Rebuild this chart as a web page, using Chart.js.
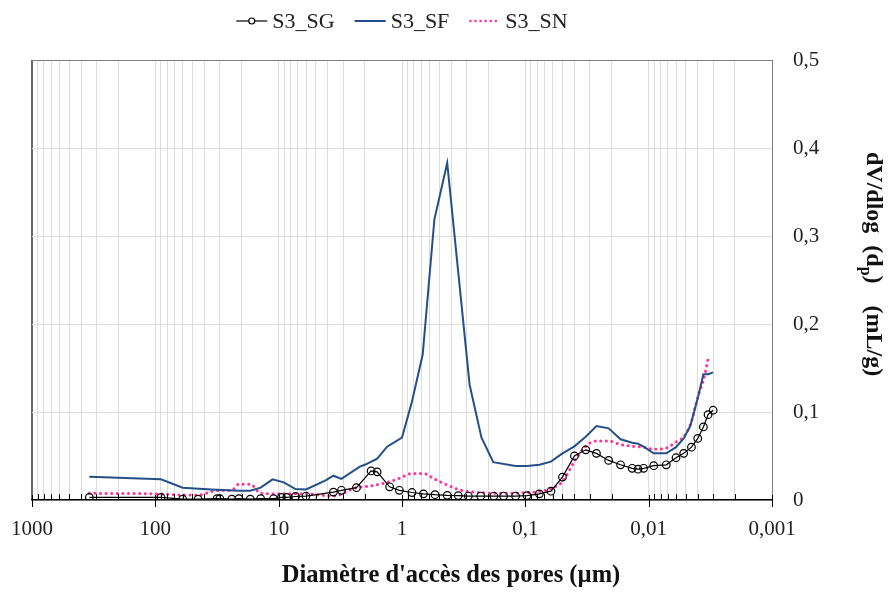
<!DOCTYPE html>
<html lang="fr">
<head>
<meta charset="utf-8">
<title>S3 - distribution des pores</title>
<script src="https://cdn.jsdelivr.net/npm/chart.js@4.4.0/dist/chart.umd.min.js"></script>
<style>
  html, body { margin: 0; padding: 0; background: #fff; }
  #wrap { width: 888px; height: 593px; }
</style>
</head>
<body>
<div id="wrap"><canvas id="chart"></canvas></div>
<script>
// values: pore diameter (µm) and dV/dlog(dp) (mL/g)
let sgDiam = [343, 90, 60, 45, 31.6, 30, 24, 21, 17, 14, 11, 9.5, 8.6, 7.3, 6.0, 3.6, 3.1, 2.34, 1.78, 1.59, 1.26, 1.05, 0.83, 0.67, 0.54, 0.43, 0.35, 0.29, 0.23, 0.18, 0.15, 0.12, 0.097, 0.077, 0.062, 0.050, 0.040, 0.0324, 0.0265, 0.0211, 0.0169, 0.0136, 0.0122, 0.0110, 0.0091, 0.0072, 0.0060, 0.0052, 0.0045, 0.0040, 0.0036, 0.0033, 0.0030];
let sgVal = [0.003, 0.003, 0.001, 0.001, 0.0015, 0.0015, 0.001, 0.0015, 0.001, 0.0015, 0.0015, 0.003, 0.003, 0.004, 0.0045, 0.009, 0.011, 0.014, 0.033, 0.032, 0.015, 0.011, 0.0085, 0.007, 0.006, 0.0053, 0.005, 0.0045, 0.0045, 0.0045, 0.0045, 0.0045, 0.005, 0.007, 0.010, 0.026, 0.050, 0.057, 0.053, 0.045, 0.040, 0.036, 0.035, 0.036, 0.039, 0.040, 0.048, 0.053, 0.060, 0.070, 0.083, 0.097, 0.102];

let sfDiam = [343, 90, 60, 35, 21, 17, 14, 11.2, 9.1, 7.3, 6.0, 4.2, 3.6, 3.1, 2.2, 2.0, 1.59, 1.32, 1.0, 0.83, 0.68, 0.546, 0.43, 0.283, 0.227, 0.182, 0.12, 0.097, 0.077, 0.062, 0.050, 0.040, 0.0324, 0.0265, 0.0211, 0.0169, 0.0136, 0.0122, 0.0110, 0.0091, 0.0072, 0.0060, 0.0052, 0.0046, 0.0040, 0.0036, 0.0033, 0.0030];
let sfVal = [0.0265, 0.0235, 0.014, 0.012, 0.0105, 0.0105, 0.014, 0.0235, 0.020, 0.0125, 0.012, 0.022, 0.0276, 0.024, 0.038, 0.040, 0.047, 0.0606, 0.071, 0.112, 0.165, 0.319, 0.383, 0.131, 0.071, 0.043, 0.0386, 0.0386, 0.040, 0.0436, 0.053, 0.061, 0.072, 0.084, 0.0814, 0.069, 0.065, 0.064, 0.0606, 0.053, 0.053, 0.060, 0.070, 0.084, 0.1155, 0.143, 0.143, 0.145];

let snDiam = [343, 90, 60, 45, 31.6, 24, 21, 17, 14, 11, 6.0, 3.6, 2.34, 1.78, 1.26, 1.05, 0.83, 0.67, 0.54, 0.43, 0.35, 0.29, 0.23, 0.18, 0.15, 0.12, 0.097, 0.077, 0.062, 0.050, 0.040, 0.0324, 0.0265, 0.0211, 0.0169, 0.0136, 0.0110, 0.0091, 0.0072, 0.0060, 0.0052, 0.0045, 0.0040, 0.0036, 0.0033];
let snVal = [0.0076, 0.0068, 0.0057, 0.0057, 0.0106, 0.011, 0.018, 0.018, 0.0076, 0.007, 0.007, 0.0045, 0.014, 0.016, 0.0208, 0.0246, 0.030, 0.030, 0.0235, 0.017, 0.012, 0.0095, 0.0085, 0.0076, 0.0076, 0.0076, 0.0085, 0.0095, 0.013, 0.021, 0.0436, 0.061, 0.067, 0.067, 0.063, 0.061, 0.060, 0.0576, 0.059, 0.066, 0.072, 0.089, 0.117, 0.136, 0.160];

let seriesNames = ["S3_SG", "S3_SF", "S3_SN"];

// axis ticks
let decades = [1000, 100, 10, 1, 0.1, 0.01, 0.001];
let decadeLabels = ["1000", "100", "10", "1", "0,1", "0,01", "0,001"];
let yTicks = [0, 0.1, 0.2, 0.3, 0.4, 0.5];
let yTickLabels = ["0", "0,1", "0,2", "0,3", "0,4", "0,5"];

let xTitle = "Diamètre d'accès des pores (µm)";

const FONT = '"Liberation Serif", "Times New Roman", serif';
const SF_BLUE = '#24508a';
const SN_PINK = '#ff3399';

// minor gridlines 2..9 inside each decade
let xTickValues = decades.slice();
decades.forEach(d => {
  if (d >= 1000) return;
  for (let k = 2; k <= 9; k++) xTickValues.push(+(d * k).toPrecision(3));
});

function pts(xs, ys) {
  return xs.map((x, i) => ({ x: x, y: ys[i] }));
}

// legend, tick marks and axis titles drawn by hand
const decor = {
  id: 'decor',
  afterDraw(chart) {
    let ctx = chart.ctx, a = chart.chartArea, xs = chart.scales.x;
    ctx.save();

    // tick marks on the bottom axis
    ctx.strokeStyle = '#000';
    ctx.lineWidth = 1;
    xs.ticks.forEach(t => {
      let px = Math.round(xs.getPixelForValue(t.value)) + 0.5;
      let major = decades.includes(t.value);
      ctx.beginPath();
      ctx.moveTo(px, a.bottom - (major ? 5 : 6));
      ctx.lineTo(px, a.bottom + (major ? 7 : 0));
      ctx.stroke();
    });

    // legend
    ctx.font = '22px ' + FONT;
    ctx.textBaseline = 'middle';
    ctx.textAlign = 'left';
    let mark = 31, gap = 5, space = 20;
    let widths = seriesNames.map(n => ctx.measureText(n).width);
    let total = widths.reduce((s, w) => s + mark + gap + w, 0) + space * (seriesNames.length - 1);
    let x = (a.left + a.right) / 2 - total / 2;
    let ly = 21;
    seriesNames.forEach((name, i) => {
      ctx.save();
      ctx.beginPath();
      if (i === 0) {
        ctx.strokeStyle = '#000'; ctx.lineWidth = 1.2;
        ctx.moveTo(x, ly); ctx.lineTo(x + mark, ly); ctx.stroke();
        ctx.beginPath();
        ctx.fillStyle = '#fff';
        ctx.arc(x + mark / 2, ly, 3, 0, Math.PI * 2);
        ctx.fill(); ctx.stroke();
      } else if (i === 1) {
        ctx.strokeStyle = SF_BLUE; ctx.lineWidth = 2;
        ctx.moveTo(x, ly); ctx.lineTo(x + mark, ly); ctx.stroke();
      } else {
        ctx.strokeStyle = SN_PINK; ctx.lineWidth = 2.5;
        ctx.lineCap = 'round';
        ctx.setLineDash([0.1, 5]);
        ctx.moveTo(x + 1, ly); ctx.lineTo(x + mark, ly); ctx.stroke();
      }
      ctx.restore();
      ctx.fillStyle = '#222';
      ctx.fillText(name, x + mark + gap, ly + 1);
      x += mark + gap + widths[i] + space;
    });

    // x axis title
    ctx.fillStyle = '#111';
    ctx.font = 'bold 24.5px ' + FONT;
    ctx.textBaseline = 'alphabetic';
    ctx.textAlign = 'center';
    ctx.fillText(xTitle, chart.width / 2 + 7, 582);

    // y axis title, rotated, with subscript p
    ctx.translate(867, 152);
    ctx.rotate(Math.PI / 2);
    ctx.textAlign = 'left';
    let big = 'bold 24px ' + FONT, small = 'bold 16px ' + FONT;
    let tx = 0;
    ctx.font = big;
    ctx.fillText('dV/dlog', tx, 0);
    tx += ctx.measureText('dV/dlog').width + 12;
    ctx.fillText('(d', tx, 0);
    tx += ctx.measureText('(d').width;
    ctx.font = small;
    ctx.fillText('p', tx, 6);
    tx += ctx.measureText('p').width;
    ctx.font = big;
    ctx.fillText(')', tx, 0);
    tx += ctx.measureText(')').width + 22;
    ctx.fillText('(mL/g)', tx, 0);

    ctx.restore();
  }
};

new Chart(document.getElementById('chart'), {
  type: 'line',
  data: {
    datasets: [
      {
        label: seriesNames[0],
        data: pts(sgDiam, sgVal),
        borderColor: '#000',
        borderWidth: 1.2,
        pointRadius: 3.8,
        pointBorderColor: '#000',
        pointBackgroundColor: 'rgba(0,0,0,0)',
        pointBorderWidth: 1.2,
        tension: 0
      },
      {
        label: seriesNames[1],
        data: pts(sfDiam, sfVal),
        borderColor: SF_BLUE,
        borderWidth: 2,
        pointRadius: 0,
        tension: 0
      },
      {
        label: seriesNames[2],
        data: pts(snDiam, snVal),
        borderColor: SN_PINK,
        borderWidth: 3,
        borderDash: [0.1, 5.5],
        borderCapStyle: 'round',
        pointRadius: 0,
        cubicInterpolationMode: 'monotone'
      }
    ]
  },
  options: {
    responsive: true,
    maintainAspectRatio: false,
    animation: false,
    layout: { padding: { top: 60, left: 32, right: 0, bottom: 0 } },
    plugins: {
      legend: { display: false },
      tooltip: { enabled: false }
    },
    scales: {
      x: {
        type: 'logarithmic',
        reverse: true,
        min: 0.001,
        max: 1000,
        afterBuildTicks: s => { s.ticks = xTickValues.map(v => ({ value: v })); },
        afterFit: s => { s.height = 93; s.paddingLeft = 0; s.paddingRight = 0; },
        grid: {
          drawTicks: false,
          color: c => (c.tick && c.tick.value === 1000) ? '#666' : '#dcdcdc',
          lineWidth: c => (c.tick && c.tick.value === 1000) ? 2 : 1
        },
        border: { color: '#000', width: 1.5 },
        ticks: {
          autoSkip: false,
          maxRotation: 0,
          padding: 17,
          color: '#222',
          font: { family: FONT, size: 21 },
          callback: v => {
            let i = decades.indexOf(v);
            return i < 0 ? '' : decadeLabels[i];
          }
        }
      },
      y: {
        position: 'right',
        min: 0,
        max: 0.5,
        afterBuildTicks: s => { s.ticks = yTicks.map(v => ({ value: v })); },
        afterFit: s => { s.width = 116; },
        grid: {
          drawTicks: false,
          color: c => (c.tick && c.tick.value === 0.5) ? '#7f7f7f' : '#dcdcdc'
        },
        border: { color: '#7f7f7f' },
        ticks: {
          padding: 21,
          color: '#222',
          font: { family: FONT, size: 21 },
          callback: (v, i) => yTickLabels[i]
        }
      }
    }
  },
  plugins: [decor]
});
</script>
</body>
</html>
